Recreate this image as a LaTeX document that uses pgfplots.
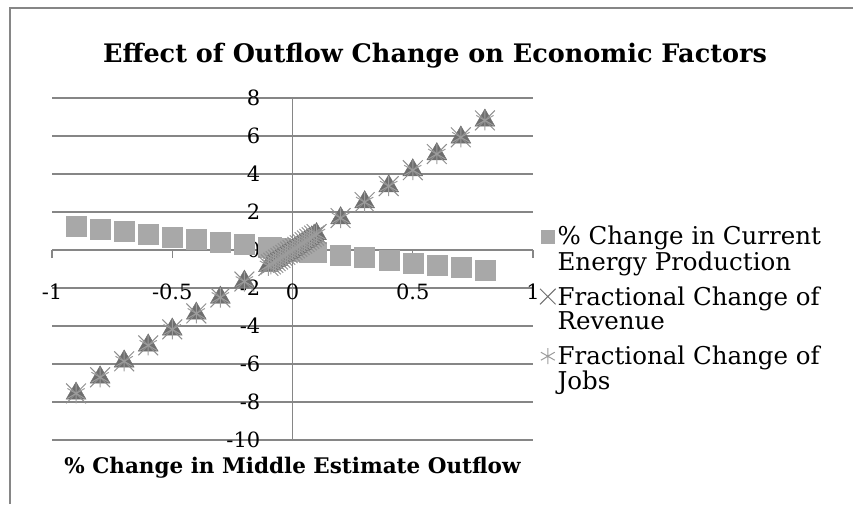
\documentclass[border=0pt]{standalone}
\usepackage{fontspec}
\setmainfont{DejaVu Serif}
\usepackage{pgfplots}
\usepackage{pgfplotstable}
\pgfplotsset{compat=1.18}

\definecolor{sqgray}{HTML}{A8A8A8}
\definecolor{trigray}{HTML}{6E6E6E}
\definecolor{xgray}{HTML}{8E8E8E}
\definecolor{stargray}{HTML}{9C9C9C}
\definecolor{gridgray}{HTML}{868686}

% x, energy production, revenue, jobs
\pgfplotstableread{
x      energy  revenue  jobs
-0.9   1.25   -7.55   -7.55
-0.8   1.12   -6.70   -6.70
-0.7   0.98   -5.86   -5.86
-0.6   0.84   -5.02   -5.02
-0.5   0.70   -4.18   -4.18
-0.4   0.56   -3.34   -3.34
-0.3   0.42   -2.50   -2.50
-0.2   0.28   -1.66   -1.66
-0.10  0.140  -0.840  -0.840
-0.09  0.126  -0.756  -0.756
-0.08  0.112  -0.672  -0.672
-0.07  0.098  -0.588  -0.588
-0.06  0.084  -0.504  -0.504
-0.05  0.070  -0.420  -0.420
-0.04  0.056  -0.336  -0.336
-0.03  0.042  -0.252  -0.252
-0.02  0.028  -0.168  -0.168
-0.01  0.014  -0.084  -0.084
 0.00  0.000   0.000   0.000
 0.01 -0.014   0.084   0.084
 0.02 -0.028   0.168   0.168
 0.03 -0.042   0.252   0.252
 0.04 -0.056   0.336   0.336
 0.05 -0.070   0.420   0.420
 0.06 -0.084   0.504   0.504
 0.07 -0.098   0.588   0.588
 0.08 -0.112   0.672   0.672
 0.09 -0.126   0.756   0.756
 0.10 -0.140   0.840   0.840
 0.2  -0.27    1.68    1.68
 0.3  -0.40    2.52    2.52
 0.4  -0.53    3.36    3.36
 0.5  -0.67    4.20    4.20
 0.6  -0.80    5.05    5.05
 0.7  -0.93    5.93    5.93
 0.8  -1.06    6.82    6.82
}\datatable

\begin{document}
\begin{tikzpicture}
\useasboundingbox (0,0) rectangle (853pt,504pt);
\draw[gridgray, line width=2pt] (10pt,0pt) -- (10pt,496pt) -- (870pt,496pt);
\node[font=\bfseries\fontsize{25.5}{30}\selectfont, anchor=base] at (435pt,441pt)
  {Effect of Outflow Change on Economic Factors};

\begin{axis}[
  at={(52pt,64pt)}, anchor=south west,
  scale only axis, width=481pt, height=342pt,
  xmin=-1, xmax=1, ymin=-10, ymax=8,
  axis x line=middle, axis y line=middle,
  axis line style={gridgray, line width=1.3pt, -},
  hide obscured x ticks=false, hide obscured y ticks=false,
  xtick={-1,-0.5,0,0.5,1},
  ytick={-10,-8,...,8},
  tick align=outside, major tick length=8pt,
  tick style={gridgray, line width=1.3pt},
  ymajorgrids, grid style={gridgray, line width=1.3pt},
  /pgf/number format/assume math mode=true,
  tick label style={font=\fontsize{21}{25}\selectfont},
  xticklabel style={anchor=center, yshift=-34pt},
  yticklabel style={anchor=east, inner sep=0pt, xshift=-24pt},
  xlabel={\% Change in Middle Estimate Outflow},
  xlabel style={at={(rel axis cs:0.5,0)}, anchor=base, yshift=-33pt,
    font=\bfseries\fontsize{21.5}{26}\selectfont},
  legend style={at={(1.008,0.637)}, anchor=north west, draw=none, fill=none,
    font=\fontsize{24.5}{24}\selectfont, cells={anchor=west, align=left},
    row sep=11pt},
  clip=false,
]
\addplot[only marks, mark=square*, mark size=10pt, color=sqgray,
  legend image post style={mark size=6.5pt, yshift=12pt}]
  table[x=x, y=energy] {\datatable};
\addlegendentry{\% Change in Current\\Energy Production}

\addplot[only marks, mark=triangle*, mark size=11.5pt, color=trigray, forget plot]
  table[x=x, y=revenue] {\datatable};

\addplot[only marks, mark=x, mark size=14pt, color=xgray, line width=1pt,
  legend image post style={mark size=11pt, color=trigray, yshift=12pt}]
  table[x=x, y=revenue] {\datatable};
\addlegendentry{Fractional Change of\\Revenue}

\addplot[only marks, mark=asterisk, mark size=10pt, color=stargray, line width=1pt,
  legend image post style={mark size=8pt, yshift=12pt}]
  table[x=x, y=jobs] {\datatable};
\addlegendentry{Fractional Change of\\Jobs}
\end{axis}
\end{tikzpicture}
\end{document}
